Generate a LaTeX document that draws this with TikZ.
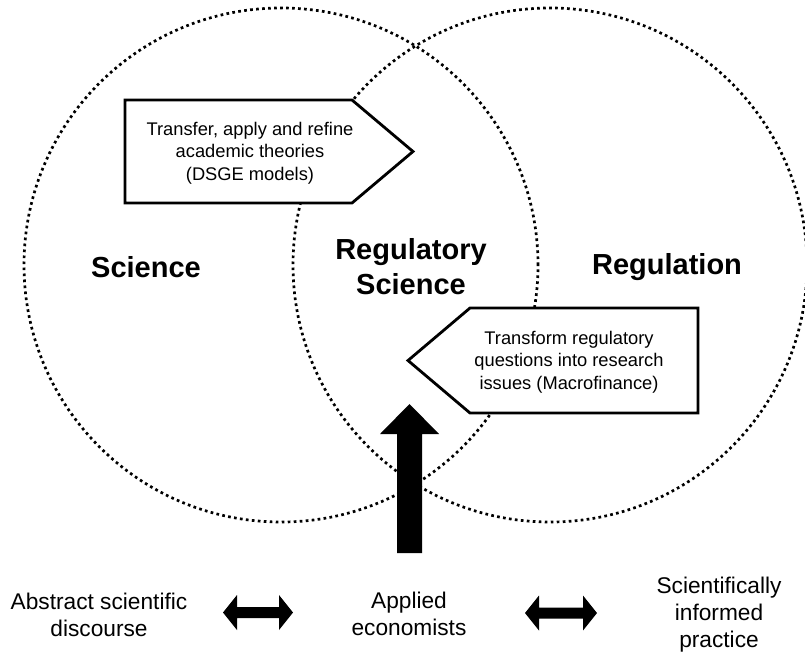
\documentclass[tikz,border=0pt]{standalone}
\usepackage{fontspec}
\setmainfont{Liberation Sans}
\begin{document}
\begin{tikzpicture}[x=1pt,y=-1pt,
  circ/.style={line width=2.7pt, dash pattern=on 2.7pt off 3.3pt},
  pent/.style={draw, line width=2.8pt, fill=white, line join=miter},
  small/.style={font=\fontsize{18.3}{22.5}\selectfont, align=center, inner sep=0pt},
  big/.style={font=\fontsize{29}{35}\selectfont\bfseries, align=center, inner sep=0pt},
  low/.style={font=\fontsize{22.7}{27}\selectfont, align=center, inner sep=0pt},
  blk/.style={fill=black}]
\useasboundingbox (0,0) rectangle (805,654);
% circles
\draw[circ] (281,265) circle[radius=257pt];
\draw[circ] (550,265) circle[radius=257pt];
% pentagon boxes
\draw[pent] (125,100) -- (352,100) -- (413,151.5) -- (352,203) -- (125,203) -- cycle;
\node[small] (t1) at (250,153) {Transfer, apply and refine\\academic theories\\(DSGE models)};
\draw[pent] (408,360.5) -- (470,308) -- (698,308) -- (698,413) -- (470,413) -- cycle;
\node[small] (t2) at (569,362) {Transform regulatory\\questions into research\\issues (Macrofinance)};
% big arrow
\coordinate (upfoot) at (409.5,553);
\fill[blk] (upfoot) ++(-12.5,0) -- ++(0,-119) -- ++(-17,0) -- (409.5,404) -- (439,434) -- ++(-17,0) -- (422,553) -- cycle;
% double arrows
\fill[blk] (223,612.5) -- (237,595) -- (237,607) -- (279,607) -- (279,595) -- (293,612.5) -- (279,630) -- (279,618) -- (237,618) -- (237,630) -- cycle;
\fill[blk] (525,613) -- (539,595.5) -- (539,607.5) -- (583,607.5) -- (583,595.5) -- (597,613) -- (583,630.5) -- (583,618.5) -- (539,618.5) -- (539,630.5) -- cycle;
% labels
\node[big] (sci) at (146,267) {Science};
\node[big] (regsci) at (411,267) {Regulatory\\Science};
\node[big] (reg) at (667,267) {Regulation};
\node[low] (abs) at (99,615) {Abstract scientific\\discourse};
\node[low] (app) at (409,614) {Applied\\economists};
\node[low] (prac) at (719,615) {Scientifically\\informed\\practice};
\end{tikzpicture}
\end{document}
